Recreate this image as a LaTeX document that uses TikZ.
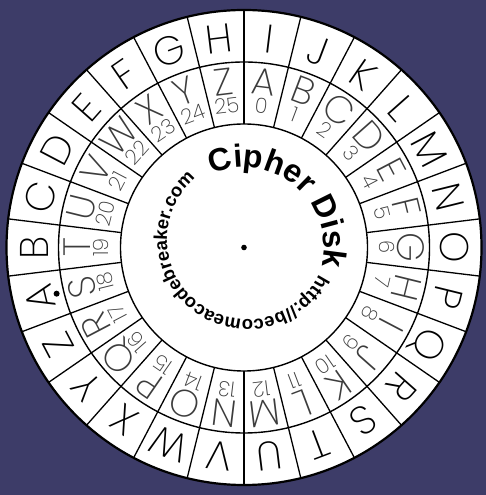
\documentclass[tikz,border=0pt]{standalone}
\usepackage{fontspec}
\usetikzlibrary{calc,decorations.text}
\newfontfamily\thinfont{Poppins ExtraLight}
\newfontfamily\boldsans{Liberation Sans Bold}
\definecolor{navybg}{RGB}{61,60,104}
\definecolor{innergray}{RGB}{60,60,60}
\begin{document}
\begin{tikzpicture}[x=1pt,y=1pt,
  ring/.style={line width=1.4pt,draw=black},
  spoke/.style={line width=1.3pt,draw=black},
  outerletter/.style={font=\thinfont\fontsize{40}{40}\selectfont,text=black,inner sep=0pt,text height=28pt,text depth=0pt,anchor=center},
  innerletter/.style={font=\thinfont\fontsize{38}{38}\selectfont,text=innergray,inner sep=0pt,text height=26.5pt,text depth=0pt,anchor=center},
  numlabel/.style={font=\thinfont\fontsize{21}{21}\selectfont,text=innergray,inner sep=0pt,text height=14.7pt,text depth=0pt,anchor=center}]
\useasboundingbox (0,0) rectangle (486,495);
\fill[navybg] (0,0) rectangle (486,495);
\coordinate (O) at (244,247.5);
\fill[white] (O) circle (237.5);
% spokes
\foreach \k in {0,...,25}{
  \draw[spoke] ($(O)+({90+\k*360/26}:123.5)$) -- ($(O)+({90+\k*360/26}:237.5)$);
}
\draw[ring] (O) circle (185.5);
\draw[ring] (O) circle (123.5);
\draw[line width=2.2pt,black] (O) circle (237.5);
% outer letters
\foreach \L [count=\i from 0] in {A,B,C,D,E,F,G,H,I,J,K,L,M,N,O,P,Q,R,S,T,U,V,W,X,Y,Z}{
  \pgfmathsetmacro\ang{193.846-\i*13.846}
  \node[outerletter,rotate=\ang-90] (o\i) at ($(O)+(\ang:210)$) {\L};
}
% inner letters and numbers
\foreach \L [count=\i from 0] in {A,B,C,D,E,F,G,H,I,J,K,L,M,N,O,P,Q,R,S,T,U,V,W,X,Y,Z}{
  \pgfmathsetmacro\ang{83.077-\i*13.846}
  \node[innerletter,rotate=\ang-90] (i\i) at ($(O)+(\ang:167)$) {\L};
  \node[numlabel,rotate=\ang-90] (n\i) at ($(O)+(\ang:142.5)$) {\i};
}
% dots
\fill (O) circle (2.8);
\fill ($(O)+(193.846:193)$) circle (3);
% curved texts
\path[decorate,decoration={text along path,text align=center,
  text={|\boldsans\fontsize{32}{32}\selectfont|Cipher Disk}}]
  ($(O)+(125:80)$) arc[start angle=125,end angle=-25,radius=80];
\path[decorate,decoration={text along path,text align=center,
  text={|\boldsans\fontsize{18.5}{18.5}\selectfont|http://becomeacodebreaker.com}}]
  ($(O)+(3,8)+(-23.7:80)$) arc[start angle=-23.7,end angle=-232.4,radius=80];
\end{tikzpicture}
\end{document}
